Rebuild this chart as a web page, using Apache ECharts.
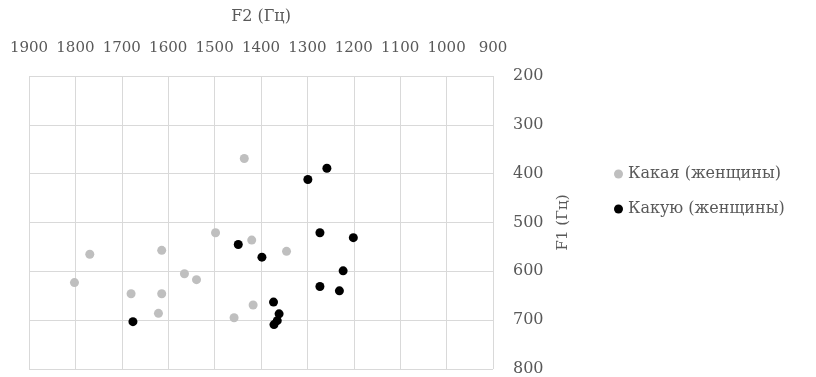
<!DOCTYPE html>
<html>
<head>
<meta charset="utf-8">
<script src="https://cdn.jsdelivr.net/npm/echarts@6/dist/echarts.min.js"></script>
<style>
  html, body { margin: 0; padding: 0; background: #fff; }
  #chart { width: 816px; height: 377px; }
</style>
</head>
<body>
<div id="chart"></div>
<script>
// Formant values (F2, F1) in Hz for the two word forms
const kakayaF2 = [1436, 1498, 1420, 1769, 1614, 1565, 1539, 1802, 1680, 1614, 1621, 1417, 1458, 1345];
const kakayaF1 = [369, 521, 536, 565, 557, 605, 617, 623, 646, 646, 686, 669, 695, 559];
const kakuyuF2 = [1449, 1398, 1676, 1373, 1258, 1299, 1273, 1201, 1223, 1273, 1231, 1361, 1365, 1372];
const kakuyuF1 = [545, 571, 703, 663, 389, 412, 521, 531, 599, 631, 640, 687, 701, 709];

const seriesNames = ['Какая (женщины)', 'Какую (женщины)'];
const f2Range = [900, 1900];
const f1Range = [200, 800];

const pairs = (xs, ys) => xs.map((x, i) => [x, ys[i]]);

const font = 'DejaVu Serif';
const textColor = '#595959';
const gridColor = '#d9d9d9';
const plain = v => String(v);

const chart = echarts.init(document.getElementById('chart'), null, { renderer: 'canvas' });
chart.setOption({
  animation: false,
  backgroundColor: '#fff',
  grid: { left: 29, right: 323, top: 76, bottom: 5, containLabel: false },
  legend: {
    orient: 'vertical',
    left: 609,
    top: 161,
    itemWidth: 9,
    itemHeight: 9,
    itemGap: 19,
    icon: 'circle',
    textStyle: { fontFamily: font, fontSize: 16, color: textColor },
    data: seriesNames
  },
  xAxis: {
    type: 'value',
    position: 'top',
    inverse: true,
    min: f2Range[0],
    max: f2Range[1],
    interval: 100,
    name: 'F2 (Гц)',
    nameLocation: 'middle',
    nameGap: 51,
    nameTextStyle: { fontFamily: font, fontSize: 16, color: textColor },
    axisLine: { show: false },
    axisTick: { show: false },
    axisLabel: { fontFamily: font, fontSize: 15, color: textColor, margin: 20, formatter: plain },
    splitLine: { show: true, lineStyle: { color: gridColor, width: 1 } }
  },
  yAxis: {
    type: 'value',
    position: 'right',
    inverse: true,
    min: f1Range[0],
    max: f1Range[1],
    interval: 100,
    name: 'F1 (Гц)',
    nameLocation: 'middle',
    nameRotate: 90,
    nameGap: 63,
    nameTextStyle: { fontFamily: font, fontSize: 15, color: textColor },
    axisLine: { show: false },
    axisTick: { show: false },
    axisLabel: { fontFamily: font, fontSize: 16, color: textColor, margin: 20, formatter: plain },
    splitLine: { show: true, lineStyle: { color: gridColor, width: 1 } }
  },
  series: [
    {
      name: seriesNames[0],
      type: 'scatter',
      symbol: 'circle',
      symbolSize: 9,
      itemStyle: { color: '#bfbfbf', opacity: 1 },
      data: pairs(kakayaF2, kakayaF1)
    },
    {
      name: seriesNames[1],
      type: 'scatter',
      symbol: 'circle',
      symbolSize: 9,
      itemStyle: { color: '#000000', opacity: 1 },
      data: pairs(kakuyuF2, kakuyuF1)
    }
  ]
});
</script>
</body>
</html>
